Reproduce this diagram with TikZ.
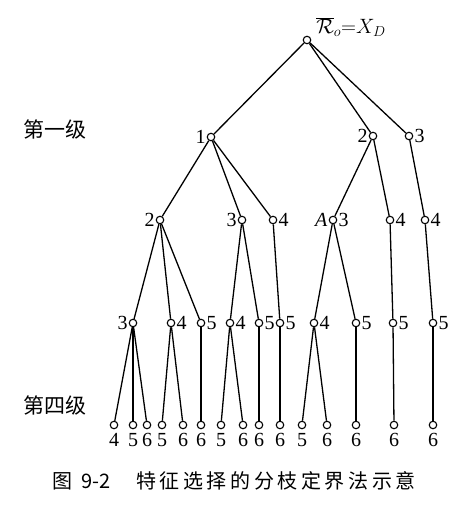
\documentclass[tikz,border=0pt]{standalone}
\usepackage{fontspec}
\setmainfont{Liberation Serif}
\newfontfamily\cjk{Noto Sans CJK SC}
\newfontfamily\cjkcap[LetterSpace=18]{Noto Sans CJK SC}
\begin{document}
\begin{tikzpicture}[x=1pt,y=-1pt,
  nd/.style={circle,draw,line width=1.1pt,fill=white,inner sep=0pt,minimum size=7.5pt},
  every label/.style={font=\fontsize{20}{20}\selectfont,inner sep=1pt},
  label distance=0pt,
  leaf/.style={nd,label={[label distance=3pt]below:#1}},
  edge/.style={line width=1.3pt},
  side/.style={font=\cjk\fontsize{21}{21}\selectfont,inner sep=0pt},
  captxt/.style={font=\cjk\fontsize{20}{20}\selectfont,inner sep=0pt,anchor=west}]
\useasboundingbox (0,0) rectangle (474,507);
% root
\node[nd] (r) at (307,40) {};
\node[font=\fontsize{20}{20}\selectfont,inner sep=0pt] (rl) at (351,27) {$\overline{\mathcal{R}}_o{=}X_D$};
% level 1
\node[nd,label=left:1] (a1) at (211,137) {};
\node[nd,label=left:2] (a2) at (373,136) {};
\node[nd,label=right:3] (a3) at (409,136) {};
% level 2
\node[nd,label=left:2] (b12) at (160,220) {};
\node[nd,label=left:3] (b13) at (242,220) {};
\node[nd,label=right:4] (b14) at (273,220) {};
\node[nd,label=left:\textit{A},label=right:3] (b23) at (333,220) {};
\node[nd,label=right:4] (b24) at (390,220) {};
\node[nd,label=right:4] (b34) at (425,220) {};
% level 3
\node[nd,label=left:3] (c123) at (133,323) {};
\node[nd,label=right:4] (c124) at (171,323) {};
\node[nd,label=right:5] (c125) at (201,323) {};
\node[nd,label=right:4] (c134) at (230,323) {};
\node[nd,label=right:5] (c135) at (259,323) {};
\node[nd,label=right:5] (c145) at (280,323) {};
\node[nd,label=right:4] (c234) at (314,323) {};
\node[nd,label=right:5] (c235) at (356,323) {};
\node[nd,label=right:5] (c245) at (393,323) {};
\node[nd,label=right:5] (c345) at (433,323) {};
% level 4
\node[leaf=4] (d1) at (114,425) {};
\node[leaf=5] (d2) at (133,425) {};
\node[leaf=6] (d3) at (147,425) {};
\node[leaf=5] (d4) at (162,425) {};
\node[leaf=6] (d5) at (183,425) {};
\node[leaf=6] (d6) at (201,425) {};
\node[leaf=5] (d7) at (221,425) {};
\node[leaf=6] (d8) at (243,425) {};
\node[leaf=6] (d9) at (259,425) {};
\node[leaf=6] (d10) at (280,425) {};
\node[leaf=5] (d11) at (302,425) {};
\node[leaf=6] (d12) at (327,425) {};
\node[leaf=6] (d13) at (356,425) {};
\node[leaf=6] (d14) at (394,425) {};
\node[leaf=6] (d15) at (433,425) {};
% edges
\foreach \p/\c in {r/a1,r/a2,r/a3,
  a1/b12,a1/b13,a1/b14,a2/b23,a2/b24,a3/b34,
  b12/c123,b12/c124,b12/c125,b13/c134,b13/c135,b14/c145,
  b23/c234,b23/c235,b24/c245,b34/c345,
  c123/d1,c123/d2,c123/d3,c124/d4,c124/d5,c125/d6,
  c134/d7,c134/d8,c135/d9,c145/d10,c234/d11,c234/d12,
  c235/d13,c245/d14,c345/d15}
  \draw[edge] (\p) -- (\c);
% side labels
\node[side] (l1) at (55,129) {第一级};
\node[side] (l4) at (55,405) {第四级};
% caption
\node[captxt] (t1) at (52,481) {图};
\node[captxt] (t2) at (81,481) {9-2};
\node[captxt,font=\cjkcap\fontsize{20}{20}\selectfont] (t3) at (136,481) {特征选择的分枝定界法示意};
\end{tikzpicture}
\end{document}
